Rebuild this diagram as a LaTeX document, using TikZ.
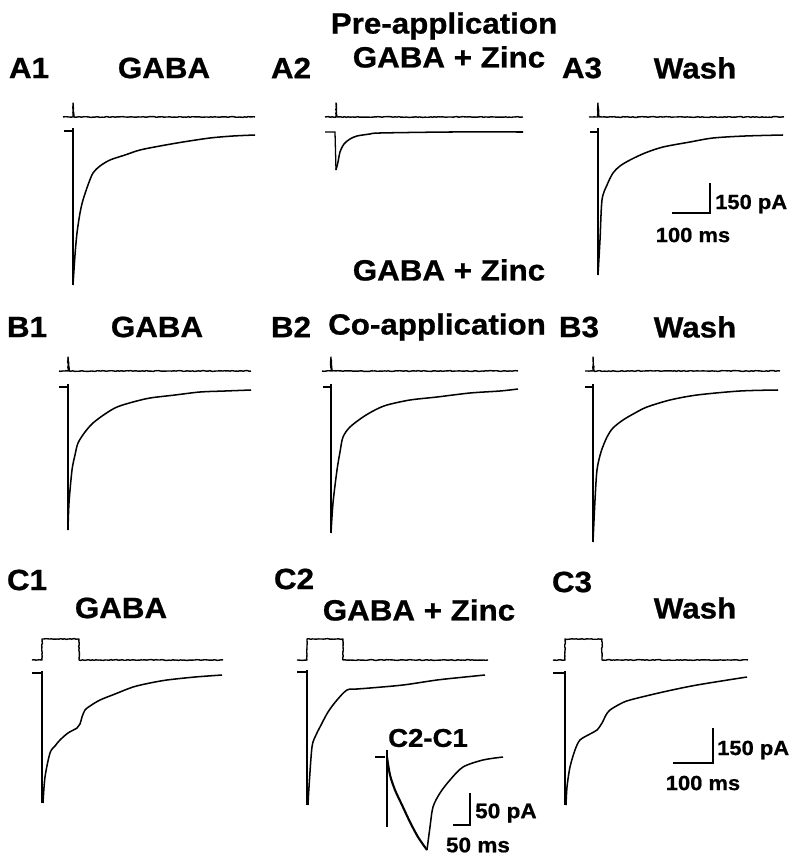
\documentclass[tikz,border=0pt]{standalone}
\usepackage{fontspec}
\setmainfont[FakeStretch=1.07,BoldFeatures={FakeBold=0.8}]{Liberation Sans}
\usepackage{xcolor}
\usepackage{tikz}
\usetikzlibrary{positioning,calc,decorations.pathmorphing}
\tikzset{%
  panelLabel/.style={%
    inner sep=0pt,
    font=\fontsize{25}{29}\selectfont\bfseries
  },
  titleText/.style={%
    inner sep=0pt,
    font=\fontsize{25}{29}\selectfont\bfseries
  },
  scaleText/.style={%
    inner sep=0pt,
    font=\fontsize{17.5}{20}\selectfont\bfseries
  },
  traceLine/.style={%
    line width=1.2pt,
    line join=round,
    decorate,
    decoration={random steps,segment length=1.6pt,amplitude=0.35pt}
  },
  curveLine/.style={%
    line width=1.3pt,
    line join=round
  },
  plainTrace/.style={%
    line width=1.1pt
  },
  scaleBar/.style={%
    line width=2pt
  }
}

\begin{document}
\begin{tikzpicture}[x=0.03cm,y=-0.03cm]
  \useasboundingbox (0,0) rectangle (800,861);

  % row A titles
  \node[titleText] (preApp) at (444,26) {Pre-application};
  \node[titleText] (zincA) at (449,57) {GABA + Zinc};
  \node[panelLabel] (labA1) at (29,68) {A1};
  \node[titleText] (gabaA1) at (164,68) {GABA};
  \node[panelLabel] (labA2) at (291,68) {A2};
  \node[panelLabel] (labA3) at (582,68) {A3};
  \node[titleText] (washA3) at (695,68) {Wash};

  % A1 traces
  \draw[traceLine] (63,117) -- (73,117) -- (73,103) -- (74,117) -- (255,117);
  \draw[plainTrace] (64,131) -- (72,131) (73,128) -- (73,285);
  \draw[curveLine] plot[smooth] coordinates {(73,285) (75,255) (77,233) (80,213) (83,200)
    (88,185) (93,173) (100,166) (110,160) (125,155) (140,150) (160,146) (183,142)
    (210,138) (233,136) (255,135)};

  % A2 traces
  \draw[traceLine] (325,117) -- (336,117) -- (336,103) -- (337,117) -- (523,117);
  \draw[plainTrace] (325,132) -- (335,132) -- (336,170);
  \draw[curveLine] plot[smooth] coordinates {(336,170) (338,162) (340,152) (344,144)
    (350,139) (357,136) (370,134) (380,133) (450,132) (523,132)};

  % A3 traces
  \draw[traceLine] (589,117) -- (598,117) -- (598,103) -- (599,117) -- (784,117);
  \draw[plainTrace] (590,132) -- (597,132) (598,128) -- (598,275);
  \draw[curveLine] plot[smooth] coordinates {(598,275) (600,240) (602,200) (607,185)
    (613,173) (620,166) (630,160) (645,153) (663,147) (690,142) (713,138) (745,136)
    (783,135)};

  % A scale bar
  \draw[scaleBar] (672,213) -- (710,213) -- (710,183);
  \node[scaleText, anchor=west] (pAa) at (715,204) {150 pA};
  \node[scaleText] (msA) at (693,235) {100 ms};

  % row B titles
  \node[titleText] (zincB) at (449,270) {GABA + Zinc};
  \node[panelLabel] (labB1) at (27,327) {B1};
  \node[titleText] (gabaB1) at (157,327) {GABA};
  \node[panelLabel] (labB2) at (291,327) {B2};
  \node[titleText] (coApp) at (437,327) {Co-application};
  \node[panelLabel] (labB3) at (579,327) {B3};
  \node[titleText] (washB3) at (695,327) {Wash};

  % B1 traces
  \draw[traceLine] (59,371) -- (68,371) -- (68,357) -- (69,371) -- (251,371);
  \draw[plainTrace] (59,387) -- (67,387) (68,384) -- (68,530);
  \draw[curveLine] plot[smooth] coordinates {(68,530) (69,503) (72,470) (75,455) (78,443)
    (85,432) (93,423) (105,414) (117,407) (133,402) (150,398) (175,395) (200,392)
    (225,391) (251,390)};

  % B2 traces
  \draw[traceLine] (322,371) -- (331,371) -- (331,357) -- (332,371) -- (518,371);
  \draw[plainTrace] (323,387) -- (330,387) (331,384) -- (331,533);
  \draw[curveLine] plot[smooth] coordinates {(331,533) (333,503) (337,470) (340,452)
    (343,437) (350,427) (363,417) (375,410) (387,405) (410,400) (437,397) (470,393)
    (500,391) (518,389)};

  % B3 traces
  \draw[traceLine] (585,371) -- (593,371) -- (593,357) -- (594,371) -- (780,371);
  \draw[plainTrace] (585,387) -- (592,387) (593,384) -- (593,542);
  \draw[curveLine] plot[smooth] coordinates {(593,542) (595,500) (597,470) (601,452)
    (607,437) (613,428) (623,420) (635,413) (647,407) (670,400) (697,395) (740,391)
    (778,390)};

  % row C titles
  \node[panelLabel] (labC1) at (27,580) {C1};
  \node[titleText] (gabaC1) at (121,608) {GABA};
  \node[panelLabel] (labC2) at (294,579) {C2};
  \node[titleText] (zincC2) at (419,610) {GABA + Zinc};
  \node[panelLabel] (labC3) at (572,582) {C3};
  \node[titleText] (washC3) at (695,608) {Wash};

  % C1 traces
  \draw[traceLine] (32,660) -- (42,660) -- (42,639) -- (79,639) -- (79,660) -- (223,660);
  \draw[plainTrace] (32,673) -- (41,673) (42,671) -- (42,803);
  \draw[curveLine] plot[smooth] coordinates {(43,803) (45,777) (50,753) (55,746) (60,740)
    (68,733) (77,728) (80,724) (82,717) (85,710) (90,706) (100,700) (115,694) (133,687)
    (150,683) (167,680) (195,677) (222,675)};

  % C2 traces
  \draw[traceLine] (297,660) -- (307,660) -- (307,639) -- (343,639) -- (343,660) -- (488,660);
  \draw[plainTrace] (297,672) -- (306,672) (307,670) -- (307,805);
  \draw[curveLine] plot[smooth] coordinates {(308,805) (309,787) (312,747) (316,735)
    (320,727) (328,712) (337,700) (347,690) (357,689) (370,688) (403,685) (437,680)
    (465,677) (485,675)};

  % C2-C1 difference
  \node[panelLabel, font=\fontsize{22}{26}\selectfont\bfseries] (diffLab) at (428,738) {C2-C1};
  \draw[plainTrace] (375,757) -- (385,757) (387,750) -- (387,827);
  \draw[curveLine, line width=1.8pt] plot[smooth] coordinates {(387,757) (390,775) (395,790)
    (402,805) (410,822) (418,837) (427,850)};
  \draw[curveLine] plot[smooth] coordinates {(427,850) (430,827) (433,807) (440,793)
    (450,780) (463,767) (483,760) (503,757)};
  \draw[scaleBar] (453,825) -- (470,825) -- (470,793);
  \node[scaleText, anchor=west, font=\fontsize{18}{21}\selectfont\bfseries] (pAd) at (475,813) {50 pA};
  \node[scaleText, font=\fontsize{18}{21}\selectfont\bfseries] (msD) at (478,845) {50 ms};

  % C3 traces
  \draw[traceLine] (553,660) -- (565,660) -- (565,639) -- (602,639) -- (602,660) -- (748,660);
  \draw[plainTrace] (553,673) -- (564,673) (565,671) -- (565,805);
  \draw[curveLine] plot[smooth] coordinates {(566,805) (567,787) (570,767) (575,750)
    (580,740) (590,734) (597,730) (602,723) (606,715) (610,710) (620,704) (630,700)
    (663,692) (697,685) (747,677)};

  % C scale bar
  \draw[scaleBar] (673,763) -- (713,763) -- (713,728);
  \node[scaleText, anchor=west] (pAc) at (717,750) {150 pA};
  \node[scaleText] (msC) at (703,783) {100 ms};
\end{tikzpicture}
\end{document}
